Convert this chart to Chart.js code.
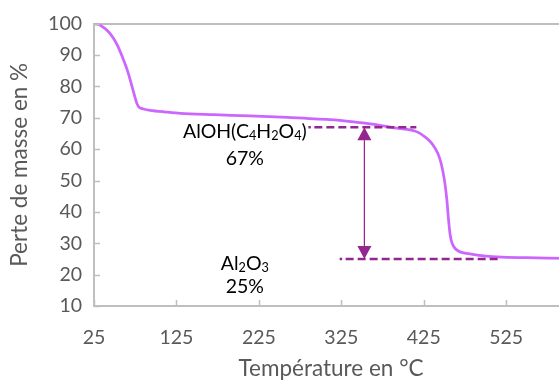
<!DOCTYPE html>
<html lang="fr">
<head>
    <meta charset="UTF-8">
    <title>Perte de masse</title>
    <script src="https://cdn.jsdelivr.net/npm/chart.js"></script>
    <style>
        body {
            margin: 0;
            overflow: hidden;
            background-color: #ffffff;
        }
        #chart-container {
            width: 568px;
            height: 382px;
        }
    </style>
</head>
<body>

    <div id="chart-container">
        <canvas id="tgaChart" width="568" height="382"></canvas>
    </div>

    <script>
        // Courbe ATG
        const temperatures = [25, 30, 36, 42, 48, 54, 60, 65, 69, 73, 77, 80, 85, 93, 110, 130, 170, 214, 260, 311, 340, 365, 389, 405, 414, 420, 426, 431, 436, 442, 446, 450, 453, 455, 457, 459, 462, 466, 472, 486, 500, 520, 550, 600];
        const masses = [100, 99.8, 98.9, 97.6, 95.6, 92.8, 89, 85.5, 82, 78.2, 74.6, 73.3, 72.8, 72.4, 71.9, 71.4, 71.0, 70.6, 70.1, 69.4, 68.7, 67.9, 66.8, 66.3, 65.8, 65.1, 64.0, 62.9, 61.4, 58.7, 55.6, 50.3, 44.0, 37.7, 32.8, 30.3, 28.7, 27.7, 27.0, 26.4, 25.9, 25.6, 25.4, 25.2];
        const xTickValues = [25, 125, 225, 325, 425, 525];

        // Paliers et annotations
        const upperLevel = 67;
        const upperRange = [285, 416];
        const lowerLevel = 25;
        const lowerRange = [323, 517];
        const arrowTemp = 353;
        const labelTemp = 208;
        const upperLabel = [{ t: 'AlOH(C' }, { t: '4', sub: true }, { t: 'H' }, { t: '2', sub: true }, { t: 'O' }, { t: '4', sub: true }, { t: ')' }];
        const upperValue = '67%';
        const lowerLabel = [{ t: 'Al' }, { t: '2', sub: true }, { t: 'O' }, { t: '3', sub: true }];
        const lowerValue = '25%';
        const labelLevels = [65.6, 57.0, 23.6, 16.0];

        const fontFamily = 'Lato, "Open Sans", sans-serif';
        const axisGray = '#bfbfbf';
        const darkPurple = '#93278f';

        // petits traits de graduation vers l'intérieur
        const innerTicks = {
            id: 'innerTicks',
            afterDraw(chart) {
                const { ctx, scales: { x, y }, chartArea } = chart;
                ctx.save();
                ctx.strokeStyle = axisGray;
                ctx.lineWidth = 1.5;
                ctx.beginPath();
                y.ticks.forEach(t => {
                    const py = Math.round(y.getPixelForValue(t.value)) + 0.5;
                    ctx.moveTo(chartArea.left, py);
                    ctx.lineTo(chartArea.left + 6, py);
                });
                x.ticks.forEach(t => {
                    const px = Math.round(x.getPixelForValue(t.value)) + 0.5;
                    ctx.moveTo(px, chartArea.bottom);
                    ctx.lineTo(px, chartArea.bottom - 6);
                });
                ctx.stroke();
                ctx.restore();
            }
        };

        function drawRichText(ctx, parts, cx, cy, size) {
            const subSize = size * 0.65;
            let total = 0;
            parts.forEach(p => {
                ctx.font = (p.sub ? subSize : size) + 'px ' + fontFamily;
                total += ctx.measureText(p.t).width;
            });
            let px = cx - total / 2;
            ctx.textAlign = 'left';
            ctx.textBaseline = 'middle';
            parts.forEach(p => {
                ctx.font = (p.sub ? subSize : size) + 'px ' + fontFamily;
                ctx.fillText(p.t, px, p.sub ? cy + size * 0.22 : cy);
                px += ctx.measureText(p.t).width;
            });
        }

        function dashedLevel(ctx, x0, x1, py) {
            // un point au début puis des tirets
            ctx.beginPath();
            ctx.moveTo(x0, py);
            ctx.lineTo(x0 + 2.5, py);
            ctx.stroke();
            ctx.setLineDash([8, 4]);
            ctx.beginPath();
            ctx.moveTo(x0 + 6, py);
            ctx.lineTo(x1, py);
            ctx.stroke();
            ctx.setLineDash([]);
        }

        const annotations = {
            id: 'annotations',
            afterDatasetsDraw(chart) {
                const { ctx, scales: { x, y } } = chart;
                ctx.save();

                ctx.strokeStyle = darkPurple;
                ctx.lineWidth = 2.5;
                dashedLevel(ctx, x.getPixelForValue(upperRange[0]), x.getPixelForValue(upperRange[1]), y.getPixelForValue(upperLevel));
                dashedLevel(ctx, x.getPixelForValue(lowerRange[0]), x.getPixelForValue(lowerRange[1]), y.getPixelForValue(lowerLevel));

                // double flèche
                const ax = x.getPixelForValue(arrowTemp);
                const top = y.getPixelForValue(upperLevel);
                const bot = y.getPixelForValue(lowerLevel);
                const headW = 7, headH = 13;
                ctx.lineWidth = 1.25;
                ctx.beginPath();
                ctx.moveTo(ax, top + headH);
                ctx.lineTo(ax, bot - headH);
                ctx.stroke();
                ctx.fillStyle = darkPurple;
                ctx.beginPath();
                ctx.moveTo(ax, top);
                ctx.lineTo(ax - headW, top + headH);
                ctx.lineTo(ax + headW, top + headH);
                ctx.closePath();
                ctx.fill();
                ctx.beginPath();
                ctx.moveTo(ax, bot);
                ctx.lineTo(ax - headW, bot - headH);
                ctx.lineTo(ax + headW, bot - headH);
                ctx.closePath();
                ctx.fill();

                // étiquettes
                const lx = x.getPixelForValue(labelTemp);
                ctx.fillStyle = '#000000';
                drawRichText(ctx, upperLabel, lx, y.getPixelForValue(labelLevels[0]), 19.5);
                drawRichText(ctx, [{ t: upperValue }], lx, y.getPixelForValue(labelLevels[1]), 19.5);
                drawRichText(ctx, lowerLabel, lx, y.getPixelForValue(labelLevels[2]), 19.5);
                drawRichText(ctx, [{ t: lowerValue }], lx, y.getPixelForValue(labelLevels[3]), 19.5);

                ctx.restore();
            }
        };

        const ctx = document.getElementById('tgaChart').getContext('2d');
        const tgaChart = new Chart(ctx, {
            type: 'line',
            data: {
                datasets: [{
                    data: temperatures.map((t, i) => ({ x: t, y: masses[i] })),
                    borderColor: '#cc66ff',
                    borderWidth: 2.75,
                    pointRadius: 0,
                    fill: false,
                    tension: 0.3
                }]
            },
            options: {
                responsive: false,
                animation: false,
                layout: { padding: { top: 21, right: 0, left: 0, bottom: 0 } },
                plugins: {
                    legend: { display: false },
                    tooltip: { enabled: false }
                },
                scales: {
                    x: {
                        type: 'linear',
                        min: 25,
                        max: 600,
                        afterBuildTicks: scale => {
                            scale.ticks = xTickValues.map(v => ({ value: v }));
                        },
                        afterFit: scale => { scale.height = 76; },
                        grid: { display: false, drawTicks: false },
                        border: { color: axisGray, width: 2 },
                        ticks: {
                            padding: 20,
                            color: '#595959',
                            font: { family: fontFamily, size: 19.5 },
                            maxRotation: 0
                        },
                        title: {
                            display: true,
                            text: 'Température en °C',
                            color: '#595959',
                            font: { family: fontFamily, size: 22.5 },
                            padding: { top: 0, bottom: 0 }
                        }
                    },
                    y: {
                        min: 10,
                        max: 100,
                        afterFit: scale => { scale.width = 94; },
                        ticks: {
                            stepSize: 10,
                            padding: 12,
                            color: '#595959',
                            font: { family: fontFamily, size: 19.5 }
                        },
                        grid: {
                            drawTicks: false,
                            lineWidth: 2,
                            color: c => c.tick && c.tick.value === 100 ? axisGray : 'rgba(0,0,0,0)'
                        },
                        border: { color: axisGray, width: 2 },
                        title: {
                            display: true,
                            text: 'Perte de masse en %',
                            color: '#595959',
                            font: { family: fontFamily, size: 22.5 },
                            padding: { top: 6, bottom: 0 }
                        }
                    }
                }
            },
            plugins: [innerTicks, annotations]
        });
    </script>
</body>
</html>
